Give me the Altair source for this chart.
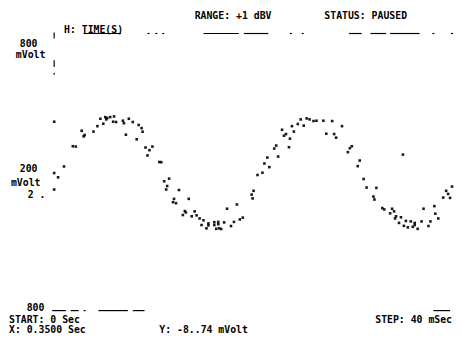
import altair as alt
import pandas as pd

time_ms = [0, 0, 4, 0, 10, 19, 22, 28, 31, 30, 40, 44, 47, 50, 52, 53, 54, 57, 61, 60,
           63, 70, 71, 73, 76, 80, 84, 86, 89, 90, 93, 97, 100, 95, 107, 109, 117, 112, 115, 114,
           127, 122, 121, 124, 137, 133, 134, 131, 143, 145, 140, 148, 152, 150, 157, 157, 155, 163, 163, 167,
           167, 165, 168, 170, 173, 176, 180, 183, 186, 189, 192, 201, 202, 203, 207, 212, 214, 219, 217, 228,
           224, 226, 239, 234, 236, 240, 232, 244, 242, 248, 251, 254, 257, 260, 264, 267, 274, 283, 277, 285,
           287, 293, 303, 301, 299, 311, 309, 355, 315, 318, 328, 325, 326, 334, 336, 344, 342, 346, 348, 347,
           353, 351, 358, 356, 360, 363, 367, 367, 365, 370, 374, 376, 381, 383, 387, 388, 391, 396, 399, 401,
           403, 405]
volt_mv = [330, 18, -8, -82, 58, 181, 179, 275, 249, 241, 270, 303, 348, 318, 358, 344, 352, 358, 362, 330,
           328, 336, 321, 251, 348, 328, 223, 310, 291, 269, 173, 157, 179, 125, 85, 84, -16, -32, -61, -82,
           -85, -139, -159, -165, -139, -213, -221, -237, -215, -239, -245, -258, -269, -298, -288, -300, -318, -281, -298, -279,
           -293, -321, -318, -322, -282, -199, -304, -279, -173, -264, -253, -113, -136, -90, 6, 20, 76, 54, 112, 118,
           167, 185, 175, 245, 255, 227, 281, 270, 303, 316, 344, 306, 350, 344, 334, 336, 336, 334, 257, 255,
           233, 303, 181, 169, 145, 94, 60, 130, -18, -70, -72, -125, -143, -195, -203, -199, -227, -215, -245, -258,
           -251, -285, -273, -303, -312, -276, -285, -298, -309, -321, -276, -199, -304, -276, -183, -229, -258, -131, -90, -109,
           -133, -64]

# broken top grid line (800 mV level) and bottom one (-800 mV level)
top_start = [30, 95, 103, 110, 152, 193, 240, 252, 300, 322, 342, 385, 404]
top_end = [68, 97, 105, 112, 188, 218, 242, 254, 313, 338, 372, 387, 406]
top_level = 866
bot_start = [-2, 17, 30, 45, 80, 386]
bot_end = [12, 25, 32, 75, 92, 403]
bot_level = -818
# dotted left axis pieces
axis_lo = [836, 663, 615]
axis_hi = [872, 704, 627]

trace = pd.DataFrame({"t": time_ms, "v": volt_mv})
top = pd.DataFrame({"t": top_start, "t2": top_end, "v": [top_level] * len(top_start)})
bot = pd.DataFrame({"t": bot_start, "t2": bot_end, "v": [bot_level] * len(bot_start)})
axis_df = pd.DataFrame({"t": [0] * len(axis_lo), "v": axis_lo, "v2": axis_hi})

xs = alt.Scale(domain=[-47, 407], nice=False, zero=False)
ys = alt.Scale(domain=[-1009, 1003], nice=False, zero=False)
X = alt.X("t:Q", scale=xs, axis=None)
Y = alt.Y("v:Q", scale=ys, axis=None)

pts = alt.Chart(trace).mark_square(size=7, color="black", opacity=0.9).encode(x=X, y=Y)
toprule = alt.Chart(top).mark_rule(color="black", strokeWidth=1.2).encode(x=X, x2="t2:Q", y=Y)
botrule = alt.Chart(bot).mark_rule(color="black", strokeWidth=1.2).encode(x=X, x2="t2:Q", y=Y)
axrule = alt.Chart(axis_df).mark_rule(color="black", strokeWidth=1.2).encode(x=X, y=Y, y2="v2:Q")

labels = [
    ("H: TIME(S)", 57, 19, "left"),
    ("RANGE: +1 dBV", 190, 5, "left"),
    ("STATUS: PAUSED", 322, 5, "left"),
    ("800", 12, 34, "left"),
    ("mVolt", 8, 45, "left"),
    ("200", 12, 161, "left"),
    ("mVolt", 3, 175, "left"),
    ("2 .", 20, 187, "left"),
    ("800", 19, 302, "left"),
    ("START: 0 Sec", 1, 315, "left"),
    ("X: 0.3500 Sec", 1, 325, "left"),
    ("Y: -8..74 mVolt", 154, 325, "left"),
    ("STEP: 40 mSec", 452, 315, "right"),
]
layers = [toprule, botrule, axrule, pts]
for txt, lx, ly, al in labels:
    layers.append(
        alt.Chart(pd.DataFrame({"s": [txt]})).mark_text(
            align=al, baseline="middle", font="DejaVu Sans Mono", fontSize=10,
            fontWeight="bold", color="black"
        ).encode(text="s:N", x=alt.value(lx), y=alt.value(ly))
    )

chart = alt.layer(*layers).properties(
    width=454, height=337, autosize=alt.AutoSizeParams(type="none"), padding=0
).configure_view(stroke=None)

chart.save("out.html", embed_options={"renderer": "svg", "actions": False})
